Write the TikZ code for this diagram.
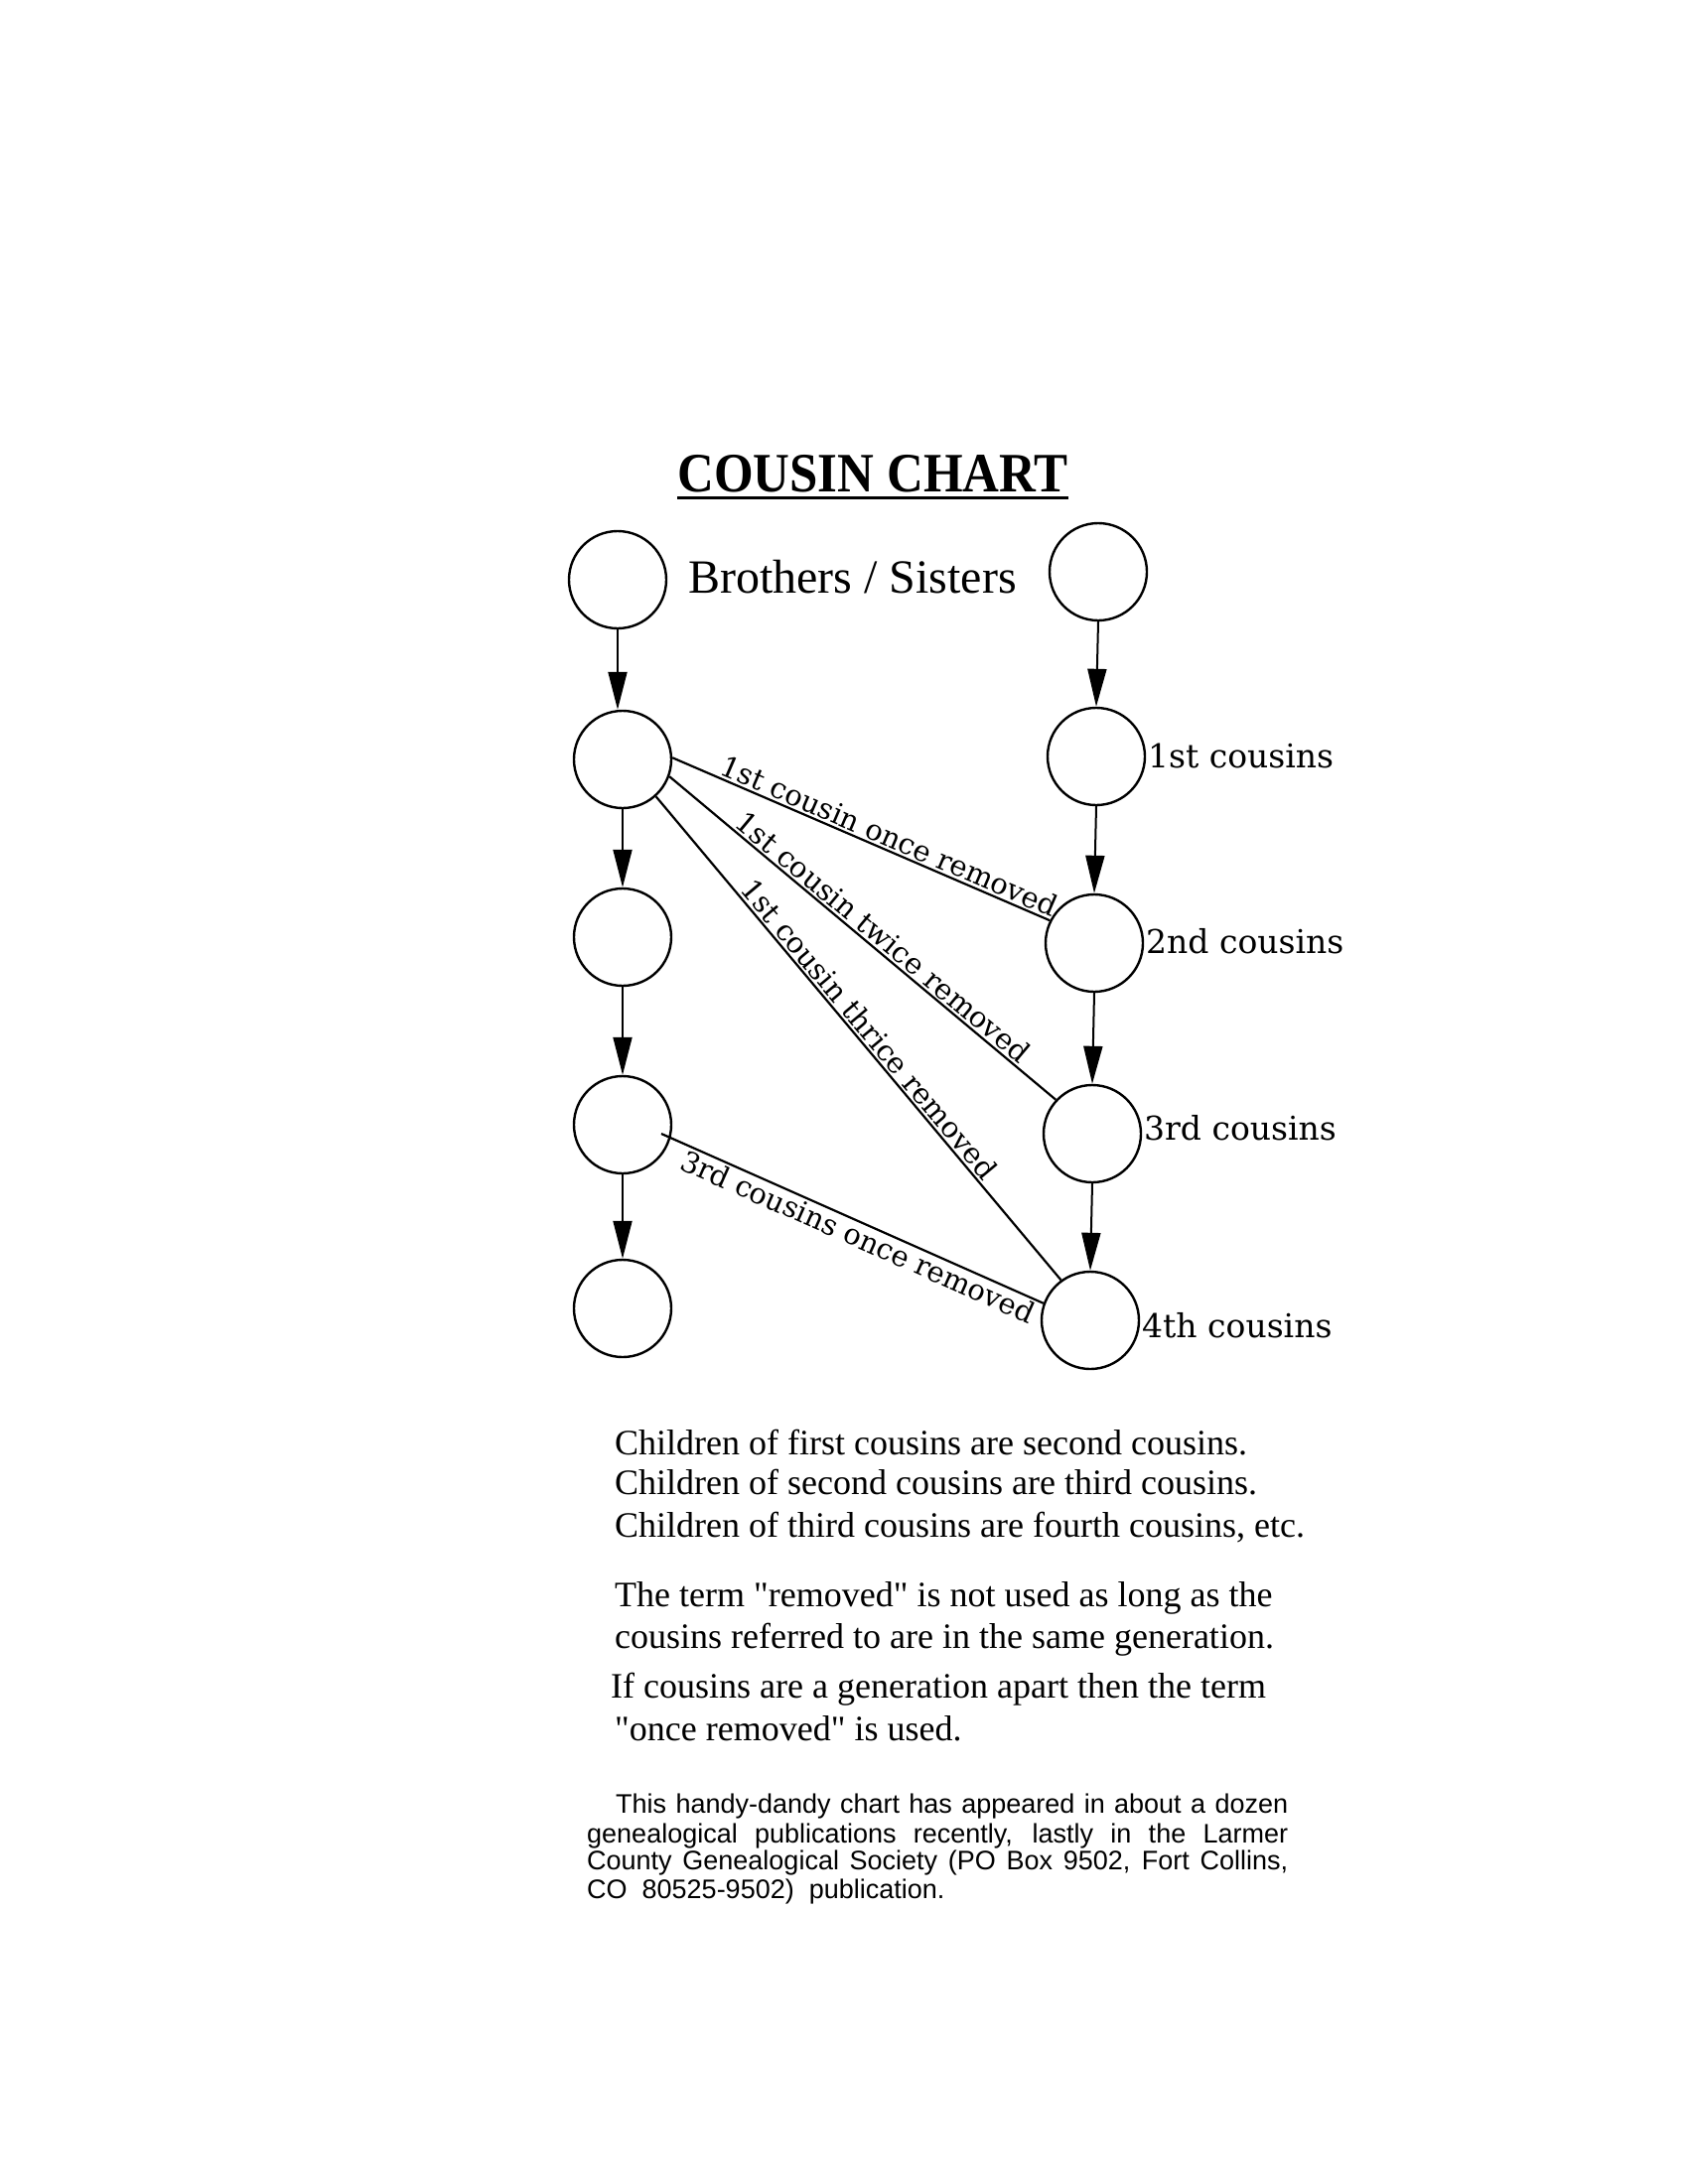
\documentclass[tikz,border=0pt]{standalone}
\usepackage{fontspec}
\setmainfont{Liberation Serif}
\newfontfamily\bodyfont{Liberation Serif}
\newfontfamily\titlefont[FakeStretch=0.91]{Liberation Serif}
\newfontfamily\labelfont{DejaVu Serif}
\newfontfamily\notefont{Liberation Sans}
\usetikzlibrary{arrows.meta,calc}
\begin{document}
\begin{tikzpicture}[x=1pt,y=-1pt,
  gen/.style={circle,draw,line width=2.4pt,minimum size=98pt,inner sep=0pt},
  down/.style={line width=2pt,-{Triangle[length=38pt,width=19pt]}},
  rel/.style={line width=2.2pt},
  rellabel/.style={font=\labelfont\fontsize{29}{32}\selectfont,sloped,inner sep=2pt},
  side/.style={font=\labelfont\fontsize{33}{36}\selectfont,anchor=base west,inner sep=0pt},
  body/.style={font=\bodyfont\fontsize{36}{40}\selectfont,anchor=base west,inner sep=0pt},
  note/.style={font=\notefont\fontsize{27}{29}\selectfont,anchor=base west,inner sep=0pt}]
\useasboundingbox[fill=white] (0,0) rectangle (1703,2200);

% title
\node[font=\titlefont\bfseries\fontsize{56}{60}\selectfont,anchor=base,inner sep=0pt] (title) at (879,495) {COUSIN CHART};
\draw[line width=3pt] ($(title.base west)+(0,6)$) -- ($(title.base east)+(0,6)$);
\node[font=\bodyfont\fontsize{48}{52}\selectfont,anchor=base west,inner sep=0pt] (bs) at (693,597) {Brothers / Sisters};

% left column
\node[gen] (A0) at (622,584) {};
\node[gen] (A1) at (627,765) {};
\node[gen] (A2) at (627,944) {};
\node[gen] (A3) at (627,1133) {};
\node[gen] (A4) at (627,1318) {};
% right column
\node[gen] (B0) at (1106,576) {};
\node[gen] (B1) at (1104,762) {};
\node[gen] (B2) at (1102,950) {};
\node[gen] (B3) at (1100,1142) {};
\node[gen] (B4) at (1098,1330) {};

% side labels
\node[side] (l1) at (1156,773) {1st cousins};
\node[side] (l2) at (1154,960) {2nd cousins};
\node[side] (l3) at (1152,1148) {3rd cousins};
\node[side] (l4) at (1150,1347) {4th cousins};

% generation arrows
\draw[down] (A0.south) -- (A0.south |- A1.north);
\draw[down] (A1.south) -- (A2.north);
\draw[down] (A2.south) -- (A3.north);
\draw[down] (A3.south) -- (A4.north);
\draw[down] (B0.south) -- (B1.north);
\draw[down] (B1.south) -- (B2.north);
\draw[down] (B2.south) -- (B3.north);
\draw[down] (B3.south) -- (B4.north);

% relation lines
\draw[rel] (A1.2) -- node[rellabel,pos=0.56,above] {1st cousin once removed} (B2.153);
\draw[rel] (A1.-20) -- node[rellabel,pos=0.53,above] {1st cousin twice removed} (B3.137);
\draw[rel] (A1.-48) -- node[rellabel,pos=0.50,above] {1st cousin thrice removed} (B4.126);
\coordinate (s3) at ($(A3.center)+(39,9)$);
\draw[rel] (s3) -- node[rellabel,pos=0.53,below] {3rd cousins once removed} (B4.160);

% explanatory text
\node[body] (t1) at (619,1465) {Children of first cousins are second cousins.};
\node[body] (t2) at (619,1505) {Children of second cousins are third cousins.};
\node[body] (t3) at (619,1548) {Children of third cousins are fourth cousins, etc.};
\node[body] (t4) at (619,1618) {The term "removed" is not used as long as the};
\node[body] (t5) at (619,1660) {cousins referred to are in the same generation.};
\node[body] (t6) at (615,1710) {If cousins are a generation apart then the term};
\node[body] (t7) at (619,1753) {"once removed" is used.};

% note
\node[note] (n1) at (620,1826) {\makebox[677pt][s]{This handy-dandy chart has appeared in about a dozen}};
\node[note] (n2) at (591,1856) {\makebox[706pt][s]{genealogical publications recently, lastly in the Larmer}};
\node[note] (n3) at (591,1883) {\makebox[706pt][s]{County Genealogical Society (PO Box 9502, Fort Collins,}};
\node[note] (n4) at (591,1912) {CO\ \ 80525-9502)\ \ publication.};
\end{tikzpicture}
\end{document}
